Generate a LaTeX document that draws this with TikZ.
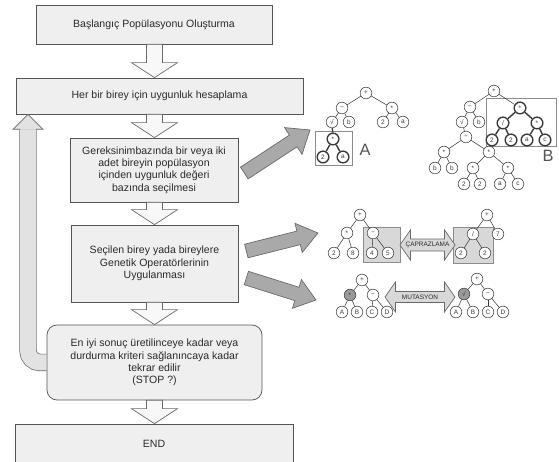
\documentclass[tikz,border=0pt]{standalone}
\usepackage{fontspec}
\setmainfont{Liberation Sans}
\usepackage{xcolor}
\definecolor{boxfill}{HTML}{EFEFEF}
\definecolor{boxline}{HTML}{555555}
\definecolor{textgray}{HTML}{2A2A2A}
\definecolor{arrfill}{HTML}{F8F8F8}
\definecolor{arrline}{HTML}{6A6A6A}
\definecolor{loopfill}{HTML}{E2E2E2}
\definecolor{gbfill}{HTML}{A9A9A9}
\definecolor{treeline}{HTML}{3A3A3A}
\definecolor{hlfill}{HTML}{D8D8D8}
\definecolor{hlline}{HTML}{8C8C8C}
\definecolor{mutgray}{HTML}{9A9A9A}
\usepackage{tikz}
\usetikzlibrary{shapes.arrows, arrows.meta, positioning, calc}
\tikzset{
  fbox/.style ={rectangle, draw=boxline, fill=boxfill, line width=0.6pt, text=textgray, align=center,
                inner sep=0pt, font=\fontsize{9}{10.5}\selectfont},
  fboxr/.style={fbox, rounded corners=3mm},
  hollow/.style ={draw=arrline, fill=arrfill, line width=0.6pt},
  solidarr/.style={draw=arrline, fill=gbfill, line width=0.6pt},
  loopline/.style={draw=arrline, line width=0.6pt, double=loopfill, double distance=4.8mm, rounded corners=3.6mm},
  loophead/.style={draw=arrline, fill=loopfill, line width=0.6pt},
  tnode/.style={circle, draw=treeline, fill=white, line width=0.45pt, inner sep=0pt, minimum size=3.5mm,
                text=treeline, font=\fontsize{5.5}{6}\selectfont},
  tbold/.style={tnode, line width=1.2pt},
  tgray/.style={tnode, fill=mutgray},
  tedge/.style={draw=treeline, line width=0.45pt},
  tedgeb/.style={draw=treeline, line width=1.2pt},
  hlbox/.style={draw=hlline, line width=0.8pt},
  hlzone/.style={draw=hlline, fill=hlfill, line width=0.6pt},
  biglbl/.style={text=boxline, font=\fontsize{14}{14}\selectfont, inner sep=0pt},
  dblarr/.style={double arrow, draw=arrline, fill=hlfill, line width=0.6pt, double arrow tip angle=110,
                 double arrow head extend=2mm, inner sep=1pt, text=textgray, font=\fontsize{5.5}{6}\selectfont},
}
% blok ok: stil, kuyruk, uc, govde yari genislik, bas yari genislik, bas boyu
\newcommand{\blkarrow}[6]{%
  \coordinate (bh) at ($(#3)!#6!(#2)$);
  \draw[#1] ($(#2)!#4!90:(#3)$) -- ($(bh)!#4!90:(#3)$) -- ($(bh)!#5!90:(#3)$) -- (#3)
    -- ($(bh)!#5!-90:(#3)$) -- ($(bh)!#4!-90:(#3)$) -- ($(#2)!#4!-90:(#3)$) -- cycle;
}

\begin{document}
\begin{tikzpicture}[x=0.3mm, y=0.3mm]
  \useasboundingbox (0,0) rectangle (559,462);
  % akis kutulari
  \node[fbox, minimum width=70.8mm, minimum height=11.7mm] (init) at (154,437.5) {Başlangıç Popülasyonu Oluşturma};
  \node[fbox, minimum width=86.1mm, minimum height=10.8mm] (fitness) at (159.5,366) {Her bir birey için uygunluk hesaplama};
  \node[fbox, minimum width=50.4mm, minimum height=19.2mm] (select) at (154,292)
    {Gereksinimbazında bir veya iki\\adet bireyin popülasyon\\içinden uygunluk değeri\\bazında seçilmesi};
  \node[fbox, minimum width=50.1mm, minimum height=23.1mm] (genop) at (154.5,198.5)
    {Seçilen birey yada bireylere\\Genetik Operatörlerinin\\Uygulanması};
  \node[fboxr, minimum width=64.5mm, minimum height=22.5mm] (stopc) at (154.5,99.5)
    {En iyi sonuç üretilinceye kadar veya\\durdurma kriteri sağlanıncaya kadar\\tekrar edilir\\(STOP ?)};
  \node[fbox, minimum width=83.4mm, minimum height=12mm] (finish) at (154,18) {END};

  \coordinate (axis) at (154.5,0);
  \foreach \a/\b in {init/fitness, fitness/select, select/genop, genop/stopc, stopc/finish} {
    \coordinate (p) at (\a.south -| axis);
    \coordinate (q) at (\b.north -| axis);
    \blkarrow{hollow}{p}{q}{2.4mm}{6.9mm}{4.5mm}
  }

  % geri donus
  \coordinate (loopcol) at (28,0);
  \coordinate (looptip) at (fitness.south -| loopcol);
  \draw[loopline] (stopc.west) -- (stopc.west -| loopcol) -- ($(looptip)+(0,-15)$);
  \draw[loophead] ($(looptip)+(-8,-15)$) -- ++(-7,0) -- (looptip) -- ($(looptip)+(15,-15)$) -- ++(-7,0);

  % yan oklar
  \coordinate (selTail) at ($(select.east)+(6,-3)$);
  \coordinate (selTip) at (310,332);
  \blkarrow{solidarr}{selTail}{selTip}{2.1mm}{4.8mm}{6mm}
  \coordinate (crossTail) at ($(genop.east)+(8,12.5)$);
  \coordinate (crossTip) at (318,229);
  \blkarrow{solidarr}{crossTail}{crossTip}{2.1mm}{4.5mm}{6mm}
  \coordinate (mutTail) at ($(genop.east)+(8,-14.5)$);
  \coordinate (mutTip) at (316,162);
  \blkarrow{solidarr}{mutTail}{mutTip}{2.1mm}{4.5mm}{6mm}

  % secilen agaclar A ve B
  \draw[hlbox] (315,297) rectangle (352,331);
  \draw[hlbox] (486,316) rectangle (556,364);
  \node[biglbl] (labA) at (365,312) {A};
  \node[biglbl] (labB) at (548,306) {B};
  \foreach \n/\x/\y/\t in {t1r/366/369/+, t1a/342/354/−, t1b/392/354/*, t1c/332/340/√, t1d/349/340/b,
      t1e/383/340/2, t1f/403/340/a,
      t2r/494/371/+, t2a/470/355/−, t2c/462/340/√, t2d/479/340/b, t2e/466/325/−, t2f/444/310/*,
      t2g/489/310/*, t2h/435/294/b, t2i/452/294/b, t2j/473/294/*, t2k/508/294/*, t2l/464/278/2,
      t2m/480/278/2, t2n/500/278/a, t2o/518/278/c}
    \node[tnode] (\n) at (\x,\y) {\t};
  \foreach \n/\x/\y/\t in {t1g/333/323/*, t1h/323/305/2, t1i/343/305/a,
      t2b/520/354/*, t2q/537/339/*, t2s/492/322/2, t2t/511/322/2, t2u/527/322/a, t2v/545/322/c}
    \node[tbold] (\n) at (\x,\y) {\t};
  \node[tbold] (t2p) at (503,339) {/};
  \foreach \p/\c in {t1r/t1a, t1r/t1b, t1a/t1c, t1a/t1d, t1b/t1e, t1b/t1f,
      t2r/t2a, t2r/t2b, t2a/t2c, t2a/t2d, t2c/t2e, t2e/t2f, t2e/t2g, t2f/t2h, t2f/t2i,
      t2g/t2j, t2g/t2k, t2j/t2l, t2j/t2m, t2k/t2n, t2k/t2o}
    \draw[tedge] (\p) -- (\c);
  \foreach \p/\c in {t1c/t1g, t1g/t1h, t1g/t1i, t2b/t2p, t2b/t2q, t2p/t2s, t2p/t2t, t2q/t2u, t2q/t2v}
    \draw[tedgeb] (\p) -- (\c);

  % caprazlama
  \draw[hlzone] (363,200) rectangle (400,235);
  \draw[hlzone] (453,199) rectangle (493,235);
  \node[dblarr, minimum height=15.9mm, minimum width=9mm] (cross) at (427.5,217) {ÇAPRAZLAMA};
  \foreach \n/\x/\y/\t in {t3r/360/247/+, t3a/347/229/*, t3b/373/229/−, t3c/334/209/2, t3d/353/209/8,
      t3e/372/209/4, t3f/388/209/5, t4r/487/247/+, t4b/498/228/7, t4c/461/209/2, t4d/485/209/2}
    \node[tnode] (\n) at (\x,\y) {\t};
  \node[tnode] (t4a) at (473,228) {/};
  \foreach \p/\c in {t3r/t3a, t3r/t3b, t3a/t3c, t3a/t3d, t3b/t3e, t3b/t3f, t4r/t4a, t4r/t4b, t4a/t4c, t4a/t4d}
    \draw[tedge] (\p) -- (\c);

  % mutasyon
  \node[dblarr, minimum height=21mm, minimum width=9mm] (mut) at (420,165) {MUTASYON};
  \foreach \n/\x/\y/\t in {t5r/362/182/+, t5b/373/167/−, t5c/342/150/A, t5d/357/150/B, t5e/372/150/C,
      t5f/387/150/D, t6r/477/183/+, t6b/488/168/−, t6c/456/150/A, t6d/473/150/B, t6e/488/150/C, t6f/503/150/D}
    \node[tnode] (\n) at (\x,\y) {\t};
  \node[tgray] (t5a) at (350,167) {*};
  \node[tgray] (t6a) at (464,168) {√};
  \foreach \p/\c in {t5r/t5a, t5r/t5b, t5a/t5c, t5a/t5d, t5b/t5e, t5b/t5f, t6r/t6a, t6r/t6b, t6a/t6c, t6a/t6d, t6b/t6e, t6b/t6f}
    \draw[tedge] (\p) -- (\c);
\end{tikzpicture}
\end{document}
